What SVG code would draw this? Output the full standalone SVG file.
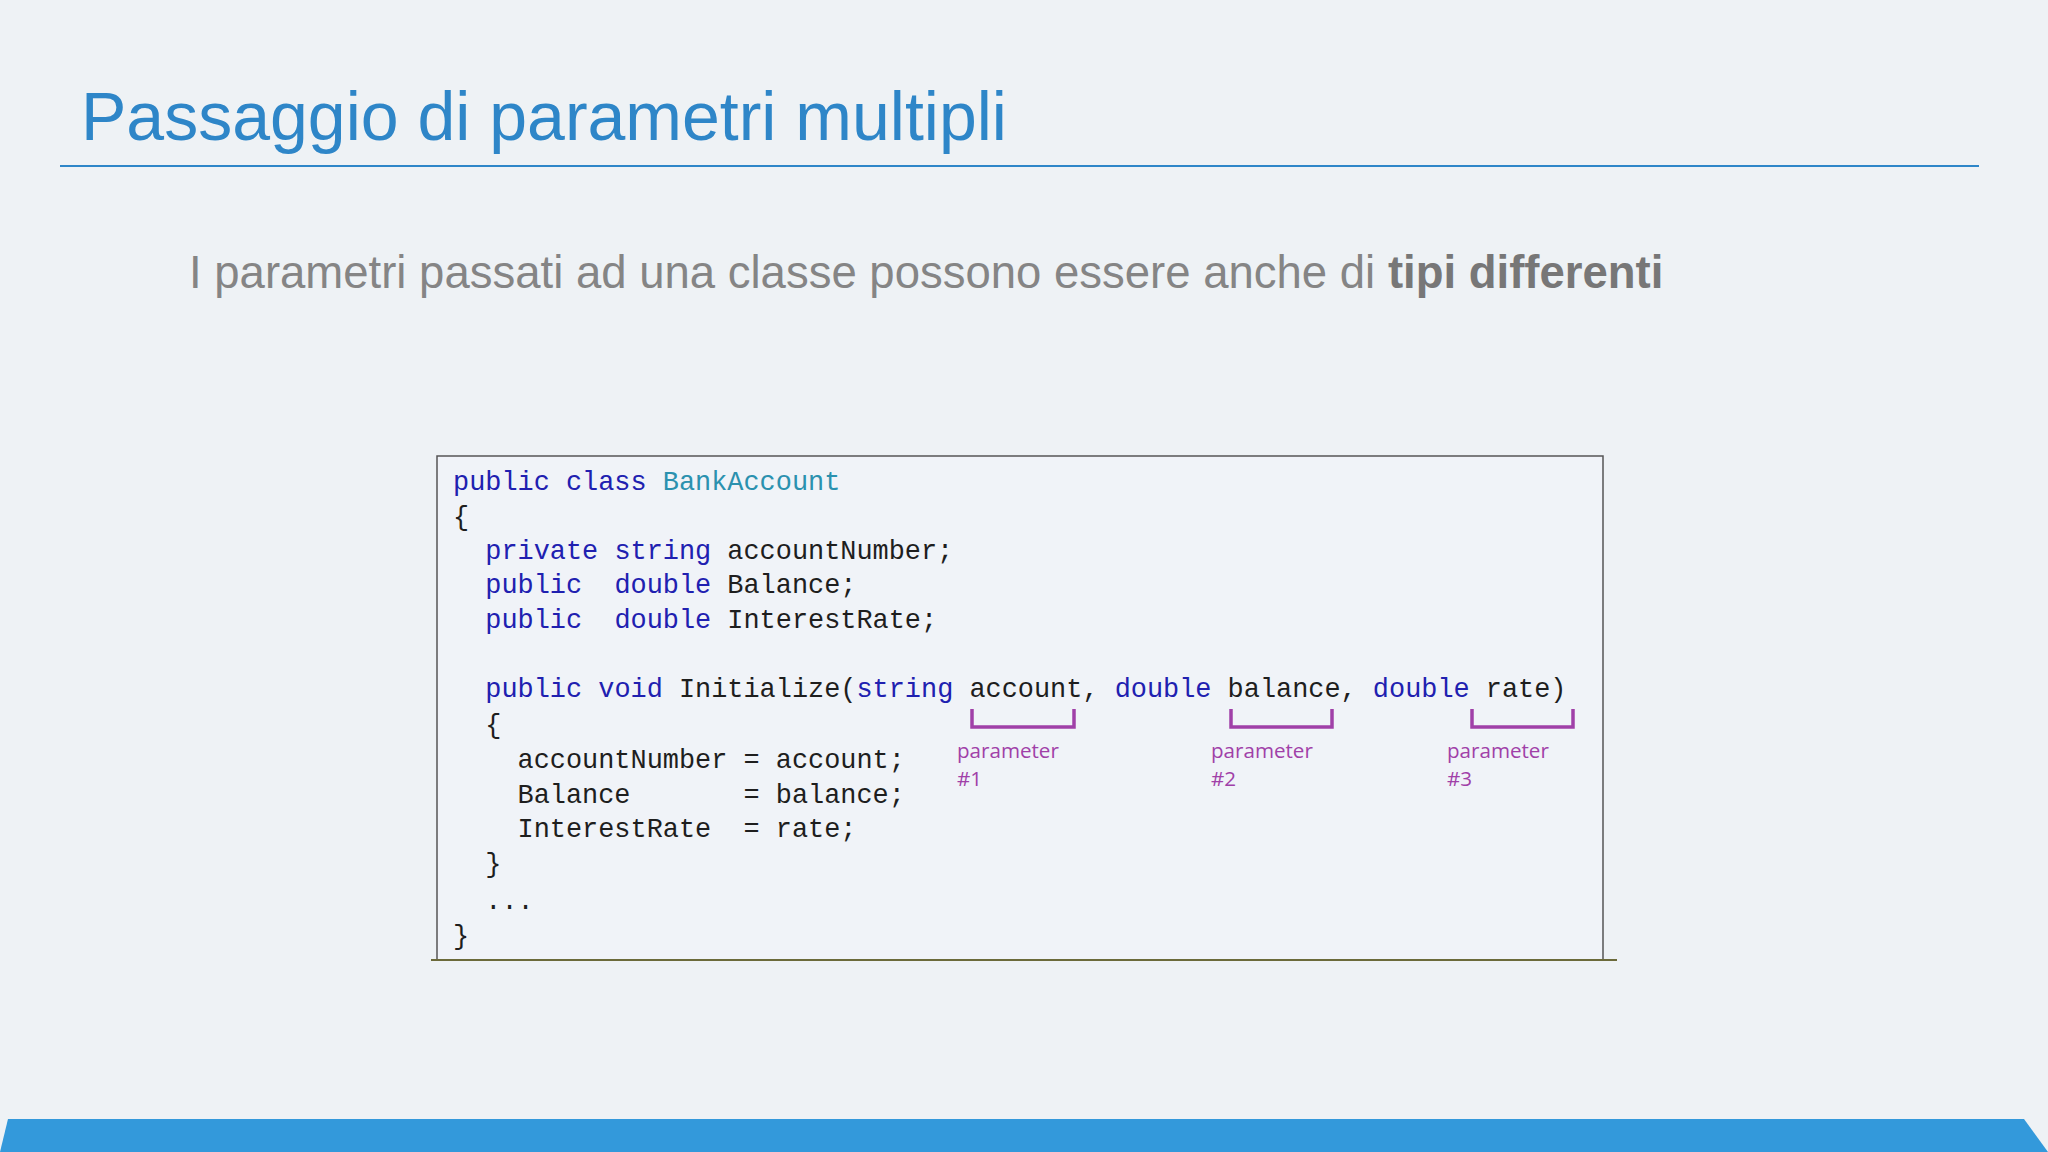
<svg xmlns="http://www.w3.org/2000/svg" width="2048" height="1152" viewBox="0 0 2048 1152">
<style>
.code{font-family:"Liberation Mono","DejaVu Sans Mono",monospace;font-size:26.9px;fill:#1e1e1e;white-space:pre}
.kw{fill:#2020b0}
.ty{fill:#2b91af}
.lbl{font-family:"Open Sans","Liberation Sans",sans-serif;font-size:20.6px;fill:#a040a8}
.br{fill:none;stroke:#a040a8;stroke-width:3.5}
</style>
<rect width="2048" height="1152" fill="#eef2f5"/>
<g id="title">
<text x="81" y="140" font-family="Liberation Sans,Arial,sans-serif" font-size="68" fill="#2e86c8">Passaggio di parametri multipli</text>
<line x1="60" y1="166" x2="1979" y2="166" stroke="#2e86c8" stroke-width="2"/>
</g>
<g id="subtitle">
<text x="189" y="288" font-family="Liberation Sans,Arial,sans-serif" font-size="45.5" fill="#858585">I parametri passati ad una classe possono essere anche di <tspan font-weight="bold" fill="#777">tipi differenti</tspan></text>
</g>
<g id="codebox">
<rect x="437" y="456" width="1166" height="504" fill="#f0f3f8" stroke="#555" stroke-width="1.5"/>
<line x1="431" y1="960" x2="1617" y2="960" stroke="#6b6a3a" stroke-width="2"/>
<text class="code" x="453" y="490"><tspan class="kw">public class</tspan> <tspan class="ty">BankAccount</tspan></text>
<text class="code" x="453" y="525">{</text>
<text class="code" x="453" y="559">  <tspan class="kw">private string</tspan> accountNumber;</text>
<text class="code" x="453" y="593">  <tspan class="kw">public  double</tspan> Balance;</text>
<text class="code" x="453" y="628">  <tspan class="kw">public  double</tspan> InterestRate;</text>
<text class="code" x="453" y="697">  <tspan class="kw">public void</tspan> Initialize(<tspan class="kw">string</tspan> account, <tspan class="kw">double</tspan> balance, <tspan class="kw">double</tspan> rate)</text>
<text class="code" x="453" y="733">  {</text>
<text class="code" x="453" y="768">    accountNumber = account;</text>
<text class="code" x="453" y="803">    Balance       = balance;</text>
<text class="code" x="453" y="837">    InterestRate  = rate;</text>
<text class="code" x="453" y="872">  }</text>
<text class="code" x="453" y="909">  ...</text>
<text class="code" x="453" y="944">}</text>
</g>
<g id="param1">
<path class="br" d="M972 709V727H1074V709"/>
<text class="lbl" x="957" y="758">parameter</text>
<text class="lbl" x="957" y="786">#1</text>
</g>
<g id="param2">
<path class="br" d="M1231 709V727H1332V709"/>
<text class="lbl" x="1211" y="758">parameter</text>
<text class="lbl" x="1211" y="786">#2</text>
</g>
<g id="param3">
<path class="br" d="M1472 709V727H1573V709"/>
<text class="lbl" x="1447" y="758">parameter</text>
<text class="lbl" x="1447" y="786">#3</text>
</g>
<g id="footer">
<path d="M0 1152L8 1119H2024L2048 1152Z" fill="#3399db"/>
</g>
</svg>
